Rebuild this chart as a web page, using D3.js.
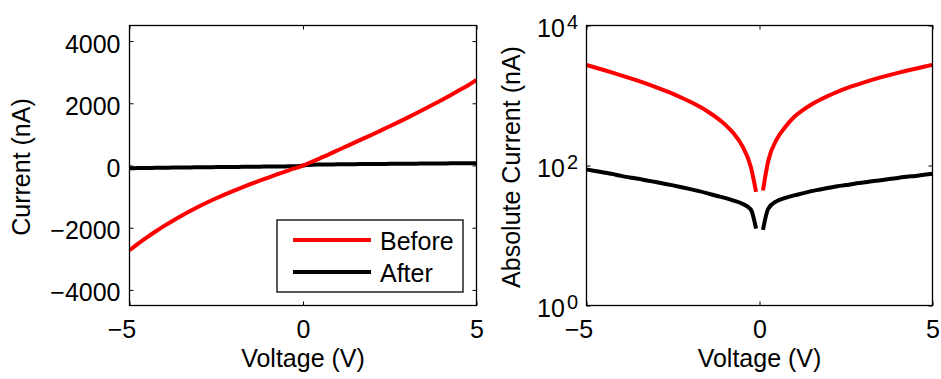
<!DOCTYPE html>
<html>
<head>
<meta charset="utf-8">
<script src="https://cdn.jsdelivr.net/npm/d3@7"></script>
<style>
  html, body { margin: 0; padding: 0; background: #fff; }
  svg { display: block; font-family: "Liberation Sans", Arial, Helvetica, sans-serif; }
  .tick line { stroke: #000; stroke-width: 1; }
  .tick text { fill: #000; font-size: 25px; }
</style>
</head>
<body>
<svg id="chart" width="941" height="379"></svg>
<script>
// Sweep voltages (V)
const voltage = [-5, -4.75, -4.5, -4.25, -4, -3.75, -3.5, -3.25, -3, -2.75, -2.5, -2.25, -2, -1.75,
                 -1.5, -1.25, -1, -0.75, -0.5, -0.25, -0.1, 0, 0.1, 0.25, 0.5, 0.75, 1, 1.25, 1.5,
                 1.75, 2, 2.25, 2.5, 2.75, 3, 3.25, 3.5, 3.75, 4, 4.25, 4.5, 4.75, 5];
// Measured current (nA) before and after treatment
const currentBefore = [-2725, -2512, -2311, -2122, -1942, -1773, -1613, -1462, -1318, -1182, -1053, -930,
                       -813, -700, -592, -488, -387, -288, -191, -95, -42, 0, 44, 115, 238, 358, 492,
                       617, 743, 870, 998, 1129, 1261, 1395, 1532, 1671, 1814, 1959, 2107, 2259, 2415,
                       2574, 2750];
const currentAfter = [-88, -83.5, -79.5, -75.5, -71, -67.5, -64.5, -61, -58, -55, -52, -49, -46, -43,
                      -40, -37, -34.5, -31.5, -28.5, -23.5, -12.5, 0, 12, 24, 31, 34.5, 37.5, 40, 43,
                      45.5, 48, 50.5, 52.5, 55, 57, 59.5, 61.5, 64, 66.5, 69, 71, 73.5, 76];

const seriesNames = ["Before", "After"];
const seriesColors = ["#ff0000", "#000000"];
const xTicks = [-5, 0, 5];
const yLinTicks = [-4000, -2000, 0, 2000, 4000];
const yLogTicks = [1, 100, 10000];
const yLogExponents = ["0", "2", "4"];

const series = [currentBefore, currentAfter].map((vals, i) => ({
  name: seriesNames[i],
  color: seriesColors[i],
  points: voltage.map((v, j) => ({ v, i: vals[j] }))
}));

const svg = d3.select("#chart");
const minus = s => String(s).replace("-", "\u2212");

// Shared x axis (bottom with labels, top ticks only), ticks pointing inward
function panel(x0, x1, yTop, yBot, clipId) {
  const x = d3.scaleLinear().domain([-5, 5]).range([x0, x1]);
  const g = svg.append("g");

  g.append("clipPath").attr("id", clipId)
    .append("rect").attr("x", x0).attr("y", yTop)
    .attr("width", x1 - x0).attr("height", yBot - yTop);

  const bottom = g.append("g").attr("transform", `translate(0,${yBot})`)
    .call(d3.axisBottom(x).tickValues(xTicks).tickSize(-4).tickPadding(15)
      .tickFormat(d => minus(d)));
  bottom.selectAll("text").attr("dx", d => d < 0 ? -8 : 0);
  g.append("g").attr("transform", `translate(0,${yTop})`)
    .call(d3.axisTop(x).tickValues(xTicks).tickSize(-4).tickFormat(""));

  return { g, x };
}

function finishPanel(g, x0, x1, yTop, yBot) {
  g.selectAll(".domain").remove();
  g.append("rect")
    .attr("x", x0).attr("y", yTop)
    .attr("width", x1 - x0).attr("height", yBot - yTop)
    .attr("fill", "none").attr("stroke", "#000").attr("stroke-width", 1.3);
}

// ---------- Left: linear current ----------
{
  const x0 = 129.5, x1 = 476.5, yTop = 25.5, yBot = 305.5;
  const y = d3.scaleLinear().domain([-4500, 4500]).range([yBot, yTop]);
  const { g, x } = panel(x0, x1, yTop, yBot, "clipL");

  const left = g.append("g").attr("transform", `translate(${x0},0)`)
    .call(d3.axisLeft(y).tickValues(yLinTicks).tickSize(-4).tickPadding(9)
      .tickFormat(d => minus(d)));
  left.selectAll("text").attr("dy", "0.44em");
  g.append("g").attr("transform", `translate(${x1},0)`)
    .call(d3.axisRight(y).tickValues(yLinTicks).tickSize(-4).tickFormat(""));

  const line = d3.line().x(d => x(d.v)).y(d => y(d.i)).curve(d3.curveMonotoneX);
  g.append("g").attr("clip-path", "url(#clipL)")
    .selectAll("path").data(series.slice().reverse()).join("path")
    .attr("d", d => line(d.points))
    .attr("fill", "none").attr("stroke", d => d.color)
    .attr("stroke-width", 4).attr("stroke-linejoin", "round");

  finishPanel(g, x0, x1, yTop, yBot);

  g.append("text").attr("transform", "translate(30,167) rotate(-90)")
    .attr("text-anchor", "middle").attr("font-size", 25).text("Current (nA)");
  g.append("text").attr("x", x(0)).attr("y", 367)
    .attr("text-anchor", "middle").attr("font-size", 25).text("Voltage (V)");

  // Legend
  const lg = g.append("g");
  lg.append("rect").attr("x", 277).attr("y", 220).attr("width", 186).attr("height", 72)
    .attr("fill", "#fff").attr("stroke", "#000").attr("stroke-width", 1.3);
  series.forEach((s, k) => {
    const cy = 240 + k * 32;
    lg.append("line").attr("x1", 293).attr("x2", 371).attr("y1", cy).attr("y2", cy)
      .attr("stroke", s.color).attr("stroke-width", 4);
    lg.append("text").attr("x", 380).attr("y", cy + 9.5)
      .attr("font-size", 25).text(s.name);
  });
}

// ---------- Right: absolute current, log scale ----------
{
  const x0 = 586.5, x1 = 932.5, yTop = 25.5, yBot = 305.5;
  const y = d3.scaleLog().domain([1, 10000]).range([yBot, yTop]);
  const { g, x } = panel(x0, x1, yTop, yBot, "clipR");

  const left = g.append("g").attr("transform", `translate(${x0},0)`)
    .call(d3.axisLeft(y).tickValues(yLogTicks).tickSize(-4).tickFormat(""));
  left.selectAll(".tick").each(function (d, k) {
    const t = d3.select(this).append("text")
      .attr("x", -8.5).attr("y", 10.5).attr("text-anchor", "end")
      .attr("fill", "#000").attr("font-size", 25);
    t.append("tspan").text("10");
    t.append("tspan").attr("dx", 2).attr("dy", -8).attr("font-size", 20).text(yLogExponents[k]);
  });
  g.append("g").attr("transform", `translate(${x1},0)`)
    .call(d3.axisRight(y).tickValues(yLogTicks).tickSize(-4).tickFormat(""));

  // Zero current has no logarithm, so the trace breaks at 0 V
  const line = d3.line()
    .defined(d => d.i !== 0)
    .x(d => x(d.v)).y(d => y(Math.abs(d.i)))
    .curve(d3.curveMonotoneX);
  g.append("g").attr("clip-path", "url(#clipR)")
    .selectAll("path").data(series.slice().reverse()).join("path")
    .attr("d", d => line(d.points))
    .attr("fill", "none").attr("stroke", d => d.color)
    .attr("stroke-width", 4).attr("stroke-linejoin", "round");

  finishPanel(g, x0, x1, yTop, yBot);

  g.append("text").attr("transform", "translate(519.5,167) rotate(-90)")
    .attr("text-anchor", "middle").attr("font-size", 25).text("Absolute Current (nA)");
  g.append("text").attr("x", x(0)).attr("y", 367)
    .attr("text-anchor", "middle").attr("font-size", 25).text("Voltage (V)");
}
</script>
</body>
</html>
